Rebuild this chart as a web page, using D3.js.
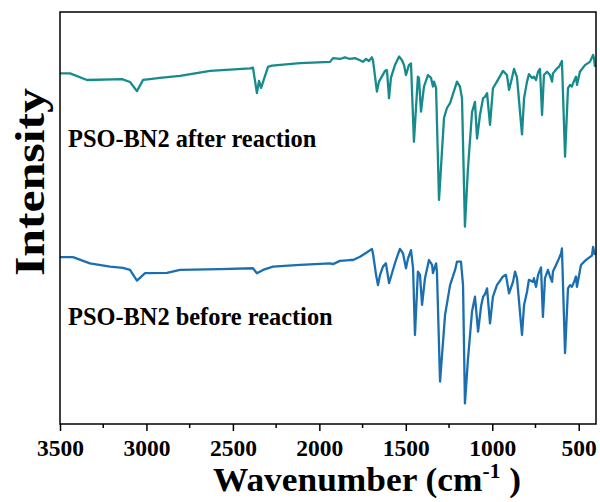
<!DOCTYPE html>
<html>
<head>
<meta charset="utf-8">
<script src="https://cdn.jsdelivr.net/npm/d3@7"></script>
<style>
  body { margin: 0; background: #fff; }
  svg text { font-family: "Liberation Serif", "Times New Roman", serif; font-weight: bold; fill: #000; }
</style>
</head>
<body>
<div id="chart"></div>
<script>
// FTIR spectra (intensity in arbitrary units)
const afterWavenumber = [3500,3442,3344,3141,3095,3055,3020,2980,2922,2806,2632,2401,2384,2361,2349,2337,2297,2274,2112,1938,1921,1881,1852,1823,1794,1765,1748,1730,1713,1696,1690,1667,1655,1620,1609,1597,1586,1563,1539,1522,1510,1499,1482,1470,1453,1430,1424,1412,1395,1372,1354,1343,1337,1325,1308,1279,1262,1244,1204,1187,1175,1158,1141,1117,1100,1088,1071,1053,1042,1030,1013,996,973,938,915,903,886,874,857,828,816,799,788,770,759,747,735,724,712,701,683,666,654,649,626,614,597,579,562,550,539,533,516,510,493,464,435,417,412,406];
const afterIntensity = [85.1,85.1,83.5,83.7,83.0,80.8,83.5,83.7,84.0,84.5,85.7,86.3,86.5,80.3,83.3,81.6,86.7,87.0,87.6,87.9,88.8,88.6,89.0,88.6,88.8,88.3,87.9,88.6,88.1,89.0,88.3,80.7,83.1,85.7,85.9,79.1,84.0,87.1,89.2,88.3,87.1,84.7,87.1,87.5,68.5,84.3,84.0,75.8,81.9,84.7,84.0,81.9,83.1,81.6,54.4,74.3,76.7,77.9,83.1,81.9,79.1,47.9,61.7,75.7,78.2,69.3,75.0,79.1,79.4,80.3,72.6,81.5,83.1,85.7,84.7,81.1,84.0,86.2,84.2,70.3,79.1,83.1,84.9,84.0,84.3,83.5,85.5,86.2,75.0,84.7,85.5,84.7,83.1,85.1,86.3,86.7,88.1,64.9,81.5,82.3,81.9,82.7,84.3,82.3,85.5,87.1,87.9,89.6,88.8,86.7];

const beforeWavenumber = [3500,3425,3327,3211,3136,3095,3055,3008,2881,2806,2575,2384,2361,2326,2268,2112,1938,1921,1881,1823,1805,1765,1724,1696,1690,1672,1661,1649,1632,1615,1597,1580,1557,1534,1516,1499,1487,1470,1458,1447,1430,1418,1406,1389,1366,1348,1343,1325,1320,1302,1273,1244,1215,1204,1181,1169,1158,1141,1117,1100,1082,1065,1053,1042,1030,1013,996,973,938,921,903,880,868,857,828,816,799,788,764,759,747,735,718,707,695,678,666,654,649,631,620,602,597,579,562,550,539,527,516,510,487,464,446,423,417,406];
const beforeIntensity = [40.5,40.5,39.0,38.2,37.9,37.4,34.8,36.6,36.7,37.4,37.6,37.8,36.6,37.4,38.2,38.6,39.0,38.8,39.6,39.8,39.8,40.6,41.7,42.5,41.4,36.2,33.7,36.2,38.2,39.0,34.2,36.6,39.8,42.5,41.4,37.8,40.2,42.2,37.8,21.6,37.0,36.2,28.9,35.4,39.8,38.6,36.6,39.0,37.0,10.3,26.5,33.7,37.4,39.4,39.4,33.7,5.0,15.5,27.3,30.9,22.4,28.5,30.9,31.5,32.9,24.4,30.9,33.7,35.8,36.2,31.7,34.5,37.0,35.4,21.6,28.9,32.1,35.0,34.5,35.4,33.3,36.2,38.0,26.0,35.4,37.4,35.8,34.5,37.0,38.6,39.6,41.4,42.6,17.2,32.9,33.7,33.3,34.5,35.8,33.3,38.6,39.6,40.2,40.9,43.0,41.0];

const seriesNames = ['PSO-BN2 after reaction', 'PSO-BN2 before reaction'];
const seriesColors = ['#178b8b', '#1b6fb0'];
// where each name sits, in intensity units at the left edge
const labelLevels = [67.2, 24.0];

const xMajorTicks = [3500, 3000, 2500, 2000, 1500, 1000, 500];
const xMinorTicks = [3250, 2750, 2250, 1750, 1250, 750];

class spectraChart {

  constructor(opts) {
    this.element = opts.element;
    this.series = opts.series;
    this.draw();
  }

  draw() {
    this.width = 600;
    this.height = 502;
    this.margin = { top: 12, right: 4, bottom: 78, left: 60 };

    this.innerWidth = this.width - (this.margin.left + this.margin.right);
    this.innerHeight = this.height - (this.margin.top + this.margin.bottom);

    const svg = d3.select(this.element).append('svg')
      .attr('width', this.width)
      .attr('height', this.height);

    this.plot = svg.append('g')
      .attr('transform', `translate(${this.margin.left},${this.margin.top})`);

    this.createScales();
    this.addLines();
    this.addAxes();
    this.addLabels();
  }

  createScales() {
    // wavenumber runs high to low
    this.xScale = d3.scaleLinear()
      .domain([3500, 400])
      .range([0, this.innerWidth]);

    this.yScale = d3.scaleLinear()
      .domain([0, 100])
      .range([this.innerHeight, 0]);
  }

  addLines() {
    const line = d3.line()
      .x(d => this.xScale(d[0]))
      .y(d => this.yScale(d[1]));

    this.plot.selectAll('.spectrum')
      .data(this.series)
      .enter().append('path')
        .attr('class', 'spectrum')
        .attr('fill', 'none')
        .attr('stroke', d => d.color)
        .attr('stroke-width', 2.3)
        .attr('stroke-linejoin', 'round')
        .attr('d', d => line(d.values));
  }

  addAxes() {
    const xAxis = d3.axisBottom(this.xScale)
      .tickValues(xMajorTicks)
      .tickSize(7)
      .tickSizeOuter(0)
      .tickPadding(8)
      .tickFormat(d3.format('d'));

    const gx = this.plot.append('g')
      .attr('class', 'x axis')
      .attr('transform', `translate(0,${this.innerHeight})`)
      .call(xAxis);

    gx.select('.domain').remove();
    gx.selectAll('line').attr('stroke', '#000').attr('stroke-width', 1.5);
    gx.selectAll('text')
      .attr('fill', '#000')
      .style('font-size', '23.5px');

    // minor ticks between the labelled ones
    gx.selectAll('.minor')
      .data(xMinorTicks)
      .enter().append('line')
        .attr('class', 'minor')
        .attr('x1', d => this.xScale(d))
        .attr('x2', d => this.xScale(d))
        .attr('y1', 0)
        .attr('y2', 4)
        .attr('stroke', '#000')
        .attr('stroke-width', 1.5);

    // frame round the plot
    this.plot.append('rect')
      .attr('x', 0)
      .attr('y', 0)
      .attr('width', this.innerWidth)
      .attr('height', this.innerHeight)
      .attr('fill', 'none')
      .attr('stroke', '#000')
      .attr('stroke-width', 1.5);

    // x-axis title with superscript
    const xt = this.plot.append('text')
      .attr('x', 307)
      .attr('y', this.innerHeight + 67)
      .style('text-anchor', 'middle')
      .style('font-size', '33px');
    xt.append('tspan').text('Wavenumber (cm');
    xt.append('tspan').attr('dy', -13).style('font-size', '20px').text('-1');
    xt.append('tspan').attr('dy', 13).text(' )');
    xt.attr('textLength', 308).attr('lengthAdjust', 'spacingAndGlyphs');

    // y-axis title
    this.plot.append('text')
      .attr('transform', `translate(-16,${this.innerHeight / 2 - 36}) rotate(-90)`)
      .style('text-anchor', 'middle')
      .style('font-size', '42px')
      .attr('textLength', 188)
      .attr('lengthAdjust', 'spacingAndGlyphs')
      .text('Intensity');
  }

  addLabels() {
    this.plot.selectAll('.series-label')
      .data(this.series)
      .enter().append('text')
        .attr('class', 'series-label')
        .attr('x', 8)
        .attr('y', d => this.yScale(d.level))
        .style('font-size', '24.4px')
        .text(d => d.name);
  }

}

const series = seriesNames.map((name, i) => ({
  name: name,
  color: seriesColors[i],
  level: labelLevels[i],
  values: i === 0 ? d3.zip(afterWavenumber, afterIntensity) : d3.zip(beforeWavenumber, beforeIntensity)
}));

new spectraChart({ element: document.getElementById('chart'), series: series });
</script>
</body>
</html>
